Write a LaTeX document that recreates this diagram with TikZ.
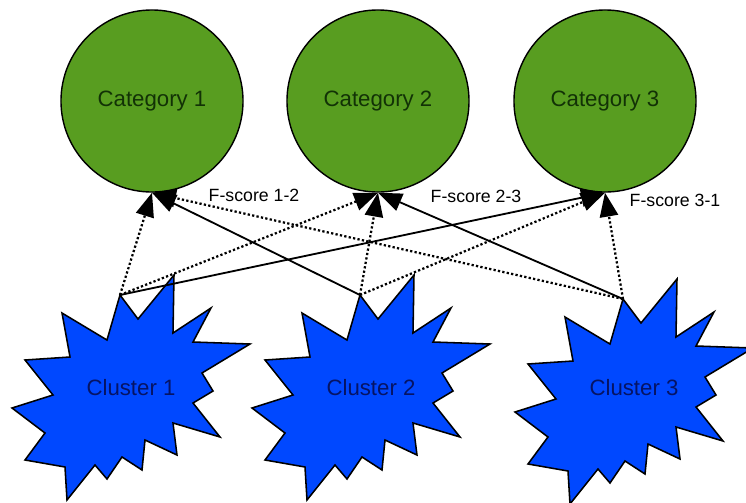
\documentclass[tikz,border=0pt]{standalone}
\usepackage{fontspec}
\setmainfont{Liberation Sans}
\usetikzlibrary{arrows.meta}
\definecolor{catgreen}{RGB}{88,157,32}
\definecolor{cattext}{RGB}{18,50,6}
\definecolor{clublue}{RGB}{0,72,255}
\definecolor{clutext}{RGB}{6,20,100}
\tikzset{
  category/.style={circle,draw,line width=1pt,fill=catgreen,minimum size=4.55cm,inner sep=0pt,
    text=cattext,font=\fontsize{15.8}{18}\selectfont},
  cluster/.style={text=clutext,font=\fontsize{15.8}{18}\selectfont},
  fscore/.style={font=\fontsize{12.6}{15}\selectfont},
  link/.style={line width=1.3pt,-{Triangle[length=17pt,width=13pt]}},
  weak/.style={link,line width=1.6pt,dash pattern=on 1.6pt off 1.6pt}
}

\begin{document}
\begin{tikzpicture}[x=0.025cm,y=-0.025cm]
\useasboundingbox (0,0) rectangle (746,502);
\node[category] (cat1) at (152,101) {Category 1};
\node[category] (cat2) at (378,101) {Category 2};
\node[category] (cat3) at (605,101) {Category 3};
\foreach \dx/\dy/\n in {0/0/1,240/0/2,503/4/3}{
  \begin{scope}[shift={(\dx,\dy)}]
  \filldraw[fill=clublue,line width=1.1pt,line join=miter] (120,295) -- (138,319) -- (174,275) -- (173,333)
    -- (211,308) -- (193,342) -- (250,344) -- (202,373) -- (213,391) -- (193,403) -- (220,437)
    -- (173,423) -- (177,455) -- (145,440) -- (142,470) -- (122,457) -- (107,479) -- (95,465)
    -- (67,500) -- (65,467) -- (25,460) -- (45,433) -- (12,408) -- (53,395) -- (25,360)
    -- (70,357) -- (62,313) -- (107,340) -- cycle;
  \coordinate (tip\n) at (120,295);
  \node[cluster] (clu\n) at (131,{388-\dy}) {Cluster \n};
  \end{scope}
}
\foreach \a/\b/\s in {1/1/weak,1/2/weak,1/3/link,2/1/link,2/2/weak,2/3/weak,3/1/weak,3/2/link,3/3/weak}
  \draw[\s] (tip\a) -- (cat\b.south);
\node[fscore] (fs12) at (254,195) {F-score 1-2};
\node[fscore] (fs23) at (476,196) {F-score 2-3};
\node[fscore] (fs31) at (675,200) {F-score 3-1};
\end{tikzpicture}
\end{document}
